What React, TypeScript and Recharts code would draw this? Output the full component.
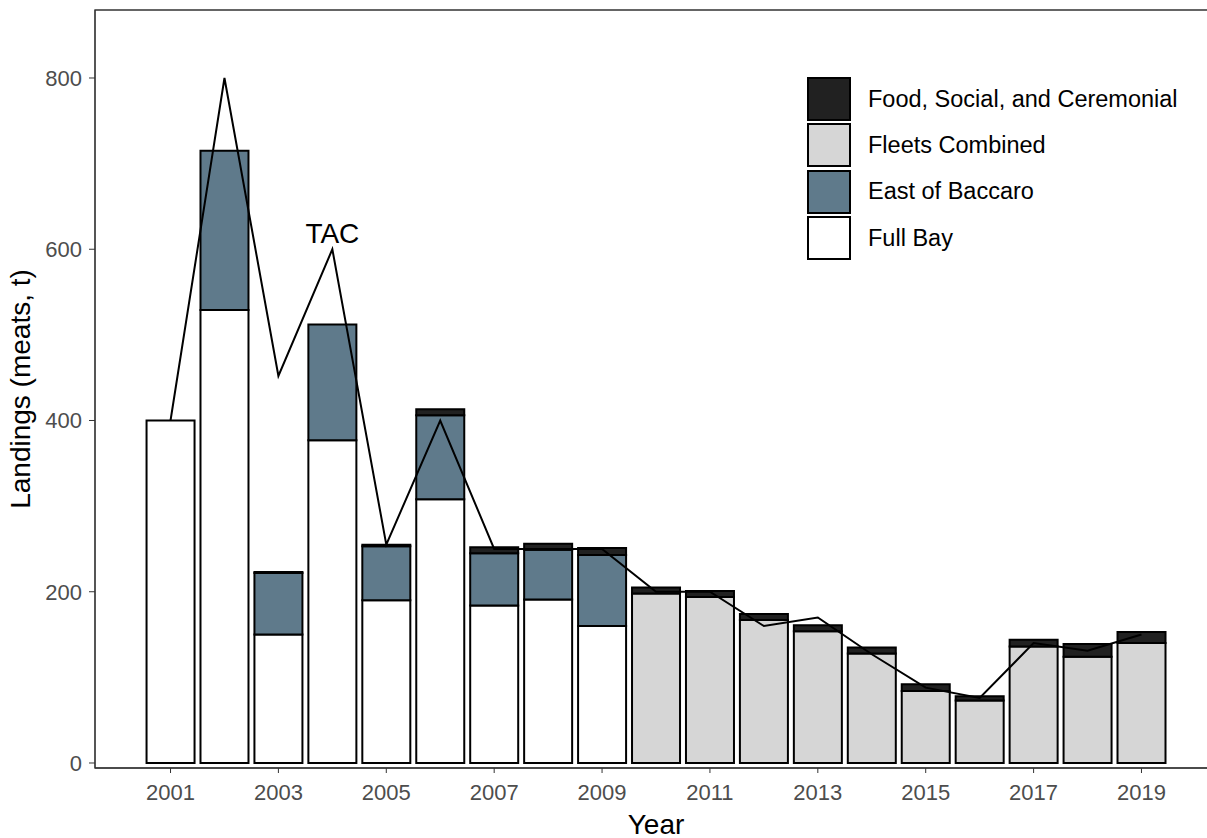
import React from "react";
import {
  ComposedChart,
  Bar,
  Line,
  XAxis,
  YAxis,
  Legend,
  ReferenceArea,
  Label,
} from "recharts";

const years = [
  2001, 2002, 2003, 2004, 2005, 2006, 2007, 2008, 2009, 2010,
  2011, 2012, 2013, 2014, 2015, 2016, 2017, 2018, 2019,
];
const fullBay = [400, 529, 150, 377, 190, 308, 184, 191, 160, 0, 0, 0, 0, 0, 0, 0, 0, 0, 0];
const eastOfBaccaro = [0, 186, 72, 135, 63, 98, 61, 58, 83, 0, 0, 0, 0, 0, 0, 0, 0, 0, 0];
const fleetsCombined = [0, 0, 0, 0, 0, 0, 0, 0, 0, 198, 194, 167, 154, 128, 84, 73, 136, 124, 140];
const foodSocialCeremonial = [0, 0, 1, 0, 2, 7, 7, 7, 8, 7, 7, 7, 7, 7, 8, 5, 8, 15, 13];
const tac = [400, 800, 452, 600, 255, 400, 250, 250, 250, 200, 200, 160, 170, 127, 88, 76, 140, 131, 150];

const xTicks = [2001, 2003, 2005, 2007, 2009, 2011, 2013, 2015, 2017, 2019];
const yTicks = [0, 200, 400, 600, 800];
const tacLabelYear = 2004;

const legendNames = ["Food, Social, and Ceremonial", "Fleets Combined", "East of Baccaro", "Full Bay"];
const legendColors = ["#212121", "#d6d6d6", "#5f7a8b", "#ffffff"];

const FONT = "'Liberation Sans', Arial, sans-serif";

const data = years.map((year, i) => ({
  year,
  fullBay: fullBay[i],
  eastOfBaccaro: eastOfBaccaro[i],
  fleetsCombined: fleetsCombined[i],
  fsc: foodSocialCeremonial[i],
  tac: tac[i],
}));

function LandingsLegend() {
  return (
    <div style={{ fontFamily: FONT, fontSize: 23.5, color: "#000" }}>
      {legendNames.map((name, i) => (
        <div key={name} style={{ display: "flex", alignItems: "center", height: 46.3 }}>
          <div
            style={{
              width: 40,
              height: 40,
              background: legendColors[i],
              border: "2px solid #000",
              marginRight: 17,
            }}
          />
          <span>{name}</span>
        </div>
      ))}
    </div>
  );
}

export default function App() {
  const barStroke = { stroke: "#000", strokeWidth: 2 };
  return (
    <div style={{ position: "absolute", left: 0, top: 0, width: 1207, height: 838, overflow: "hidden" }}>
      <ComposedChart
        width={1220}
        height={838}
        data={data}
        margin={{ top: 10, right: 3, left: 0, bottom: 0 }}
        style={{ fontFamily: FONT }}
      >
        <XAxis
          dataKey="year"
          type="number"
          domain={[1999.6, 2020.4]}
          allowDataOverflow
          ticks={xTicks}
          height={70}
          tickSize={5}
          tickMargin={11}
          stroke="#333"
          tick={{ fill: "#4d4d4d", fontSize: 22 }}
        >
          <Label
            content={(props: any) => {
              const vb = props.viewBox;
              return (
                <text x={vb.x + vb.width / 2} y={vb.y + 66} textAnchor="middle" fontSize={28} fill="#000">
                  Year
                </text>
              );
            }}
          />
        </XAxis>
        <YAxis
          type="number"
          domain={[-5.84, 879.4]}
          allowDataOverflow
          ticks={yTicks}
          width={95}
          tickSize={6}
          tickMargin={7}
          stroke="#333"
          tick={{ fill: "#4d4d4d", fontSize: 22 }}
        >
          <Label
            content={(props: any) => {
              const vb = props.viewBox;
              const cx = vb.x + 30;
              const cy = vb.y + vb.height / 2;
              return (
                <text x={cx} y={cy} transform={`rotate(-90 ${cx} ${cy})`} textAnchor="middle" fontSize={28} fill="#000">
                  Landings (meats, t)
                </text>
              );
            }}
          />
        </YAxis>
        <ReferenceArea
          x1={1999.6}
          x2={2020.4}
          y1={-5.84}
          y2={879.4}
          fill="none"
          stroke="#333"
          strokeWidth={1.3}
          ifOverflow="visible"
        />
        <Bar dataKey="fullBay" stackId="a" fill="#ffffff" {...barStroke} barSize={48} isAnimationActive={false} />
        <Bar dataKey="eastOfBaccaro" stackId="a" fill="#5f7a8b" {...barStroke} barSize={48} isAnimationActive={false} />
        <Bar dataKey="fleetsCombined" stackId="a" fill="#d6d6d6" {...barStroke} barSize={48} isAnimationActive={false} />
        <Bar dataKey="fsc" stackId="a" fill="#212121" {...barStroke} barSize={48} isAnimationActive={false} />
        <Line
          dataKey="tac"
          type="linear"
          stroke="#000"
          strokeWidth={2}
          dot={false}
          isAnimationActive={false}
          label={(props: any) =>
            data[props.index] && data[props.index].year === tacLabelYear ? (
              <text x={props.x} y={props.y - 6} textAnchor="middle" fontSize={28} fill="#000">
                TAC
              </text>
            ) : (
              <g />
            )
          }
        />
        <Legend
          layout="vertical"
          align="center"
          verticalAlign="middle"
          content={() => <LandingsLegend />}
          wrapperStyle={{ left: 807, top: 76, width: 420 }}
        />
      </ComposedChart>
    </div>
  );
}
